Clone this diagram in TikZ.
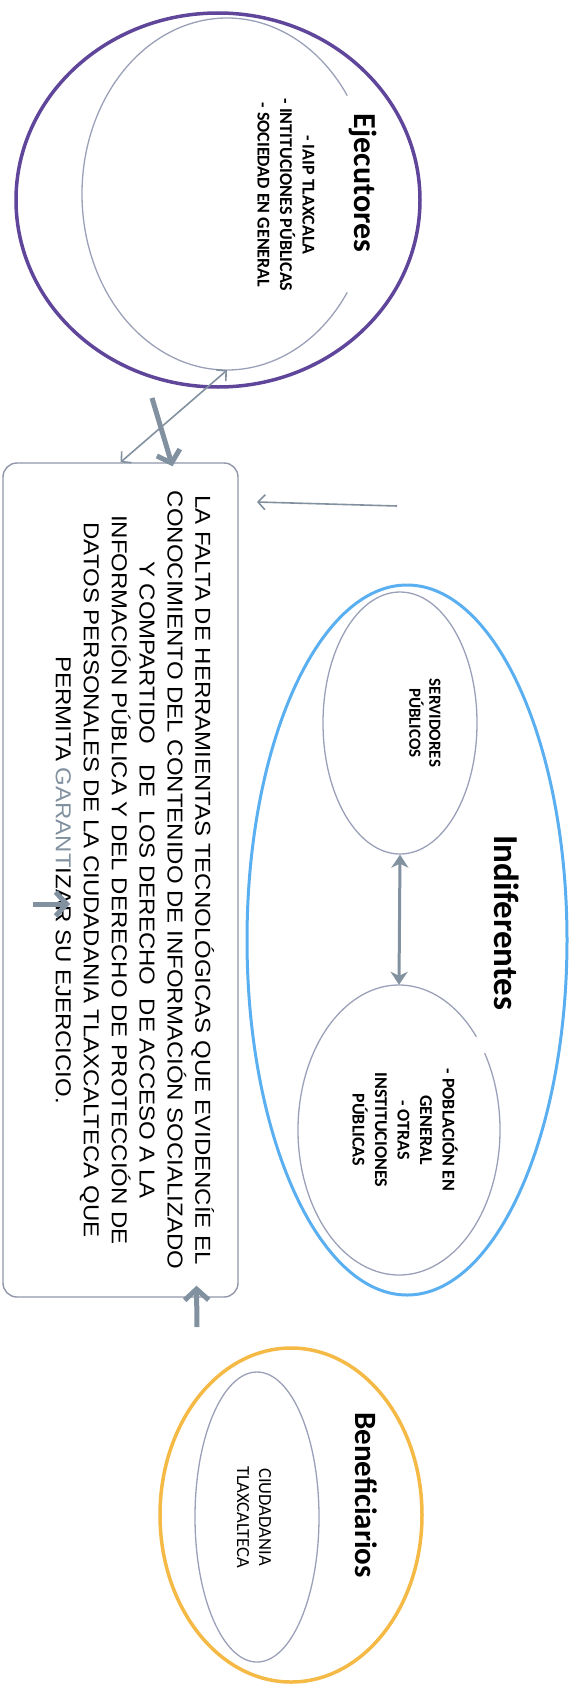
\documentclass[tikz,border=0pt]{standalone}
\usepackage{fontspec}
\setmainfont{Liberation Sans}
\newfontfamily\calibri{Carlito}
\usetikzlibrary{shapes.geometric,arrows.meta}

\definecolor{morado}{RGB}{95,70,155}
\definecolor{azul}{RGB}{90,175,240}
\definecolor{naranja}{RGB}{245,185,70}
\definecolor{gris}{RGB}{155,160,185}
\definecolor{cajagris}{RGB}{145,150,170}
\definecolor{flechagris}{RGB}{130,145,160}

\begin{document}
\begin{tikzpicture}[
		x=1pt, y=-1pt,
		every node/.style={inner sep=0pt},
		grupo/.style={ellipse, draw, line width=3.5pt},
		interno/.style={ellipse, draw=gris, line width=1.3pt},
		titulo/.style={rotate=-90, font=\calibri\bfseries\fontsize{31}{36}\selectfont},
		lista/.style={rotate=-90, align=center, font=\calibri\bfseries\fontsize{18}{22.5}\selectfont},
		flecha/.style={draw=flechagris, line width=1.6pt},
		gruesa/.style={draw=flechagris, line width=5pt, -{Straight Barb[length=11pt,width=24pt]}}
	]
  \useasboundingbox (0,0) rectangle (581,1691);

  % ejecutores
  \node (ejec) [grupo, draw=morado, minimum width=404pt, minimum height=374pt] at (218,200) {};
  \node (ejecin) [ellipse, minimum width=290pt, minimum height=352pt] at (227,194) {};
  \draw[gris, line width=1.3pt] ([shift={(34:145 and 176)}]ejecin.center) arc[start angle=34, end angle=326, x radius=145, y radius=176];
  \node (tejec) [titulo, font=\calibri\bfseries\fontsize{32}{36}\selectfont] at (363,183) {Ejecutores};
  \node (lejec) [lista] at (286,195) {- IAIP TLAXCALA\\- INTITUCIONES PÚBLICAS\\- SOCIEDAD EN GENERAL};

  % problema central
  \node (problema) [draw=cajagris, line width=1.4pt, rounded corners=14pt, minimum width=235pt, minimum height=834pt] at (120.5,880) {};
  \node (texto) [rotate=-90, yscale=0.9, align=center, font=\fontsize{24}{31}\selectfont] at (135,880)
    {LA FALTA DE HERRAMIENTAS TECNOLÓGICAS QUE EVIDENCÍE EL\\
     CONOCIMIENTO DEL CONTENIDO DE INFORMACIÓN SOCIALIZADO\\
     Y COMPARTIDO\ \ \ DE\ \ LOS DERECHO\ \ DE ACCESO A LA\\
     INFORMACIÓN PÚBLICA Y DEL DERECHO DE PROTECCIÓN DE\\
     DATOS PERSONALES DE LA CIUDADANIA TLAXCALTECA QUE\\
     PERMITA {\color{flechagris}GARANT}IZAR SU EJERCICIO.};

  % indiferentes
  \node (indif) [grupo, draw=azul, line width=3pt, minimum width=320pt, minimum height=710pt] at (407,940) {};
  \node (serv) [interno, minimum width=154pt, minimum height=262pt] at (400,723) {};
  \node (pobl) [ellipse, minimum width=202pt, minimum height=290pt] at (399,1130) {};
  \draw[gris, line width=1.3pt] ([shift={(-32:101 and 145)}]pobl.center) arc[start angle=-32, end angle=320, x radius=101, y radius=145];
  \node (tindif) [titulo, font=\calibri\bfseries\fontsize{35}{40}\selectfont] at (507,923) {Indiferentes};
  \node (lserv) [lista, font=\calibri\bfseries\fontsize{17}{20}\selectfont] at (425,723) {SERVIDORES\\PÚBLICOS};
  \node (lpobl) [lista] at (405,1130) {- POBLACIÓN EN\\GENERAL\\- OTRAS\\INSTITUCIONES\\PÚBLICAS};

  % beneficiarios
  \node (benef) [grupo, draw=naranja, minimum width=262pt, minimum height=334pt] at (291,1515) {};
  \node (benefin) [interno, minimum width=124pt, minimum height=290pt] at (257,1517) {};
  \node (tbenef) [titulo] at (366,1495) {Beneficiarios};
  \node (lbenef) [lista, font=\calibri\fontsize{18.5}{22}\selectfont] at (254,1517) {CIUDADANIA\\TLAXCALTECA};

  \coordinate (c1) at (152,398);
  \coordinate (c3) at (197,1327);
  \coordinate (c4) at (33,904);
  \coordinate (c5) at (70,904);
  \coordinate (c6) at (397,506);
  \coordinate (c7) at (257,502);

  \draw[flecha, {Straight Barb[length=7pt,width=15pt]}-{Straight Barb[length=7pt,width=15pt]}] (ejecin.south) -- (problema.north);
  \draw[gruesa] (c1) -- ([xshift=52pt,yshift=-4pt]problema.north);
  \draw[flecha, -{Straight Barb[length=7pt,width=15pt]}] (c6) -- (c7);
  \draw[gruesa] (c4) -- (c5);
  \draw[gruesa] (c3) -- ([xshift=76pt,yshift=12pt]problema.south);
  \draw[flecha, line width=3pt, {Stealth[length=13pt,width=17pt,inset=4pt]}-{Stealth[length=13pt,width=17pt,inset=4pt]}] (serv.south) -- (pobl.north);
\end{tikzpicture}
\end{document}
